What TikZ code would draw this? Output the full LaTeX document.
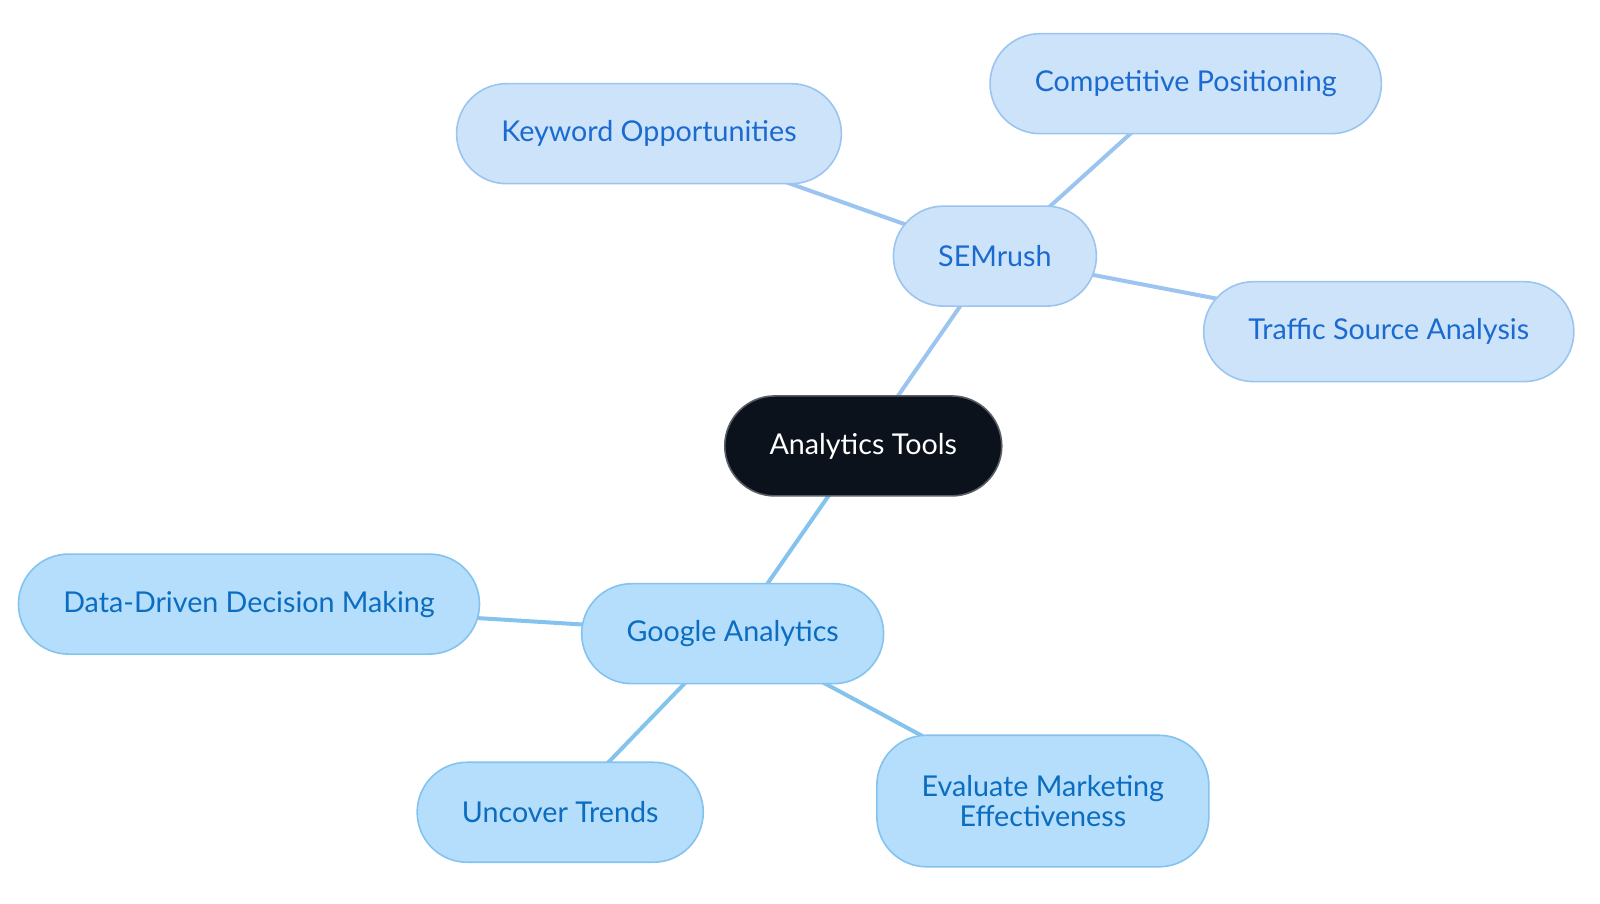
\documentclass[tikz,border=0pt]{standalone}
\usepackage{fontspec}
\setmainfont{Lato}
\usetikzlibrary{backgrounds}

\definecolor{rootfill}{HTML}{0C121C}
\definecolor{rootline}{HTML}{5A5F66}
\definecolor{semfill}{HTML}{CDE3FA}
\definecolor{semline}{HTML}{9BC5F0}
\definecolor{semtext}{HTML}{1A6AD0}
\definecolor{gafill}{HTML}{B4DEFC}
\definecolor{galine}{HTML}{84C3EE}
\definecolor{gatext}{HTML}{0B6CC0}

\begin{document}
\begin{tikzpicture}[x=0.02551cm,y=-0.02551cm,
  every node/.style={font=\fontsize{20.4}{22}\selectfont,rounded corners=1.25cm,minimum height=2.5cm,inner xsep=1.12cm,line width=0.04cm,align=center},
  root/.style={fill=rootfill,draw=rootline,text=white},
  sem/.style={fill=semfill,draw=semline,text=semtext},
  ga/.style={fill=gafill,draw=galine,text=gatext},
  sem edge/.style={draw=semline,line width=0.1cm},
  ga edge/.style={draw=galine,line width=0.1cm}]

\useasboundingbox (0,0) rectangle (1568,885);

\node[root] (tools) at (846,437) {Analytics Tools};

\node[sem] (semrush) at (975,251) {SEMrush};
\node[sem] (keyword) at (636,131) {Keyword Opportunities};
\node[sem] (compet) at (1162,82) {Competitive Positioning};
\node[sem] (traffic) at (1361,325) {Traffic Source Analysis};

\node[ga] (google) at (718,621) {Google Analytics};
\node[ga] (datadriven) at (244,592) {Data-Driven Decision Making};
\node[ga] (trends) at (549,796) {Uncover Trends};
\node[ga,minimum height=3.29cm] (evaluate) at (1022,785) {Evaluate Marketing\\Effectiveness};

\begin{scope}[on background layer]
\draw[sem edge] (tools.center) -- (semrush.center);
\draw[sem edge] (semrush.center) -- (keyword.center);
\draw[sem edge] (semrush.center) -- (compet.center);
\draw[sem edge] (semrush.center) -- (traffic.center);

\draw[ga edge] (tools.center) -- (google.center);
\draw[ga edge] (google.center) -- (datadriven.center);
\draw[ga edge] (google.center) -- (trends.center);
\draw[ga edge] (google.center) -- (evaluate.center);
\end{scope}
\end{tikzpicture}
\end{document}
